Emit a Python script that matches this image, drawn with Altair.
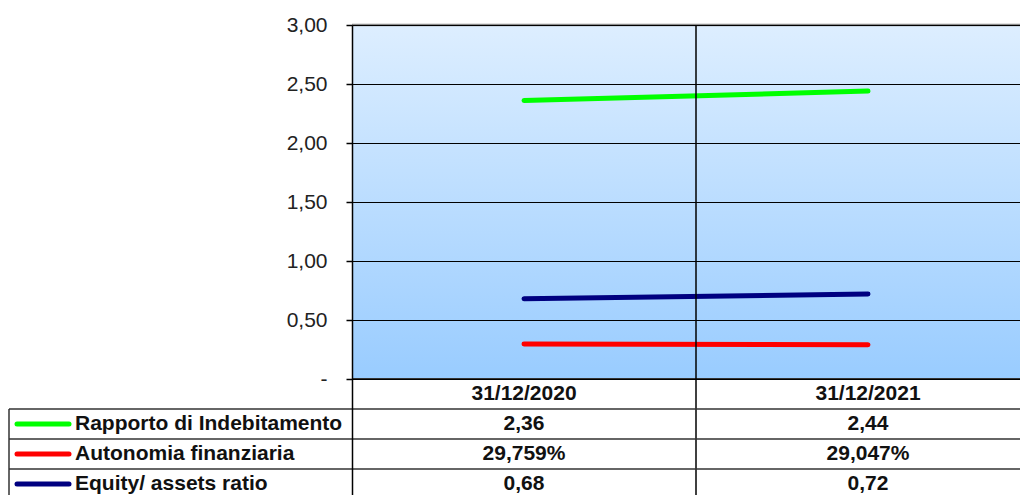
import altair as alt
import pandas as pd

# ---------------- data ----------------
dates = ["31/12/2020", "31/12/2021"]
metrics = ["Rapporto di Indebitamento", "Autonomia finanziaria", "Equity/ assets ratio"]
rapporto = [2.36, 2.44]
autonomia = [0.29759, 0.29047]
equity = [0.68, 0.72]
series_colors = ["#00ff00", "#ff0000", "#000080"]
y_ticks = [0, 0.5, 1.0, 1.5, 2.0, 2.5, 3.0]
header_row = "header"


def fmt_num(v):
    return f"{v:.2f}".replace(".", ",")


def fmt_pct(v):
    return f"{v * 100:.3f}%".replace(".", ",")


rows = []
for d_i, d in enumerate(dates):
    rows.append({"date": d, "metric": metrics[0], "value": rapporto[d_i], "label": fmt_num(rapporto[d_i])})
    rows.append({"date": d, "metric": metrics[1], "value": autonomia[d_i], "label": fmt_pct(autonomia[d_i])})
    rows.append({"date": d, "metric": metrics[2], "value": equity[d_i], "label": fmt_num(equity[d_i])})
long_df = pd.DataFrame(rows)
dates_df = pd.DataFrame({"date": dates, "row": [header_row] * len(dates)})
metrics_df = pd.DataFrame({"metric": metrics})
table_rows = [header_row] + metrics
rows_df = pd.DataFrame({"row": table_rows})
one = pd.DataFrame({"k": [0]})
divider_df = pd.DataFrame({"date": dates[1:]})

# ---------------- layout ----------------
FONT = "Liberation Sans"
W = 668          # plot width (x 352 -> 1020), keeps page inside the window
H = 470          # plot + visible table height
PLOT_H = 354     # 0..3 range
UNIT = PLOT_H / 3.0
Y_MIN = -(H - PLOT_H) / UNIT
ROW_H = 30

xscale = alt.Scale(domain=dates, range=[0, 688], paddingInner=0, paddingOuter=0)
yscale = alt.Scale(domain=[Y_MIN, 3], nice=False, zero=False)
rowscale = alt.Scale(domain=table_rows, range=[PLOT_H, PLOT_H + ROW_H * len(table_rows)],
                     paddingInner=0, paddingOuter=0)
color_scale = alt.Scale(domain=metrics, range=series_colors)

yaxis = alt.Axis(
    values=y_ticks,
    labelExpr="datum.value == 0 ? '-\u00a0\u00a0' : replace(format(datum.value, '.2f'), '.', ',')",
    grid=True, gridColor="#000000", gridWidth=1,
    domain=True, domainColor="#000000", domainWidth=1.5,
    ticks=True, tickColor="#000000", tickSize=6, tickWidth=1.5,
    labelFont=FONT, labelFontSize=21, labelColor="#222222", labelPadding=19,
    title=None, zindex=1,
)

gradient = alt.LinearGradient(
    gradient="linear",
    stops=[alt.GradientStop(offset=0, color="#ddeeff"),
           alt.GradientStop(offset=1, color="#99ccff")],
    x1=0, x2=0, y1=0, y2=1,
)

bg = alt.Chart(one).mark_rect(color=gradient).encode(
    x=alt.value(0), x2=alt.value(W),
    y=alt.Y(datum=3, type="quantitative", scale=yscale, axis=yaxis),
    y2=alt.datum(0),
)

lines = alt.Chart(long_df).mark_line(strokeWidth=5, strokeCap="round").encode(
    x=alt.X("date:N", sort=dates, scale=xscale, axis=None),
    y=alt.Y("value:Q", scale=yscale),
    color=alt.Color("metric:N", scale=color_scale, legend=None),
)

top_border = alt.Chart(one).mark_rule(color="#8c8c8c", strokeWidth=2.5).encode(
    x=alt.value(0), x2=alt.value(W),
    y=alt.Y(datum=3, type="quantitative", scale=yscale),
)

bottom_border = alt.Chart(one).mark_rule(color="#333333", strokeWidth=2).encode(
    x=alt.value(0), x2=alt.value(W),
    y=alt.Y(datum=0, type="quantitative", scale=yscale),
)

divider = alt.Chart(divider_df).mark_rule(color="#000000", strokeWidth=1.5).encode(
    x=alt.X("date:N", sort=dates, scale=xscale, bandPosition=0, axis=None),
    y=alt.Y(datum=3, type="quantitative", scale=yscale),
    y2=alt.datum(Y_MIN),
)

plot_group = alt.layer(bg, lines, top_border, bottom_border, divider)

# ---------------- table ----------------
text_style = dict(font=FONT, fontSize=21, fontWeight="bold", color="#111111", baseline="middle")

header_txt = alt.Chart(dates_df).mark_text(**text_style).encode(
    x=alt.X("date:N", sort=dates, scale=xscale, axis=None),
    y=alt.Y("row:N", scale=rowscale, axis=None),
    text="date:N",
)

value_txt = alt.Chart(long_df).mark_text(**text_style).encode(
    x=alt.X("date:N", sort=dates, scale=xscale, axis=None),
    y=alt.Y("metric:N", scale=rowscale, axis=None),
    text="label:N",
)

row_labels = alt.Chart(metrics_df).mark_text(align="left", **text_style).encode(
    x=alt.value(-277),
    y=alt.Y("metric:N", scale=rowscale, axis=None),
    text="metric:N",
)

swatches = alt.Chart(metrics_df).mark_rule(strokeWidth=5, strokeCap="round").encode(
    x=alt.value(-335), x2=alt.value(-283),
    y=alt.Y("metric:N", scale=rowscale, axis=None),
    color=alt.Color("metric:N", scale=color_scale, legend=None),
)

h_borders = alt.Chart(rows_df).mark_rule(color="#333333", strokeWidth=1.5).encode(
    x=alt.value(-343), x2=alt.value(W),
    y=alt.Y("row:N", scale=rowscale, bandPosition=1, axis=None),
)

left_border = alt.Chart(pd.DataFrame({"row": metrics[:1]})).mark_rule(color="#333333", strokeWidth=1.5).encode(
    x=alt.value(-343),
    y=alt.Y("row:N", scale=rowscale, bandPosition=0, axis=None),
    y2=alt.value(H + 40),
)

table_group = alt.layer(h_borders, left_border, swatches, header_txt, value_txt, row_labels)

chart = alt.layer(plot_group, table_group).resolve_scale(y="independent").properties(
    width=W, height=H,
    autosize=alt.AutoSizeParams(type="none"),
    padding={"left": 344, "top": 17, "right": 0, "bottom": 0},
).configure_view(stroke=None)

chart.save("out.html", embed_options={"renderer": "svg", "actions": False})
